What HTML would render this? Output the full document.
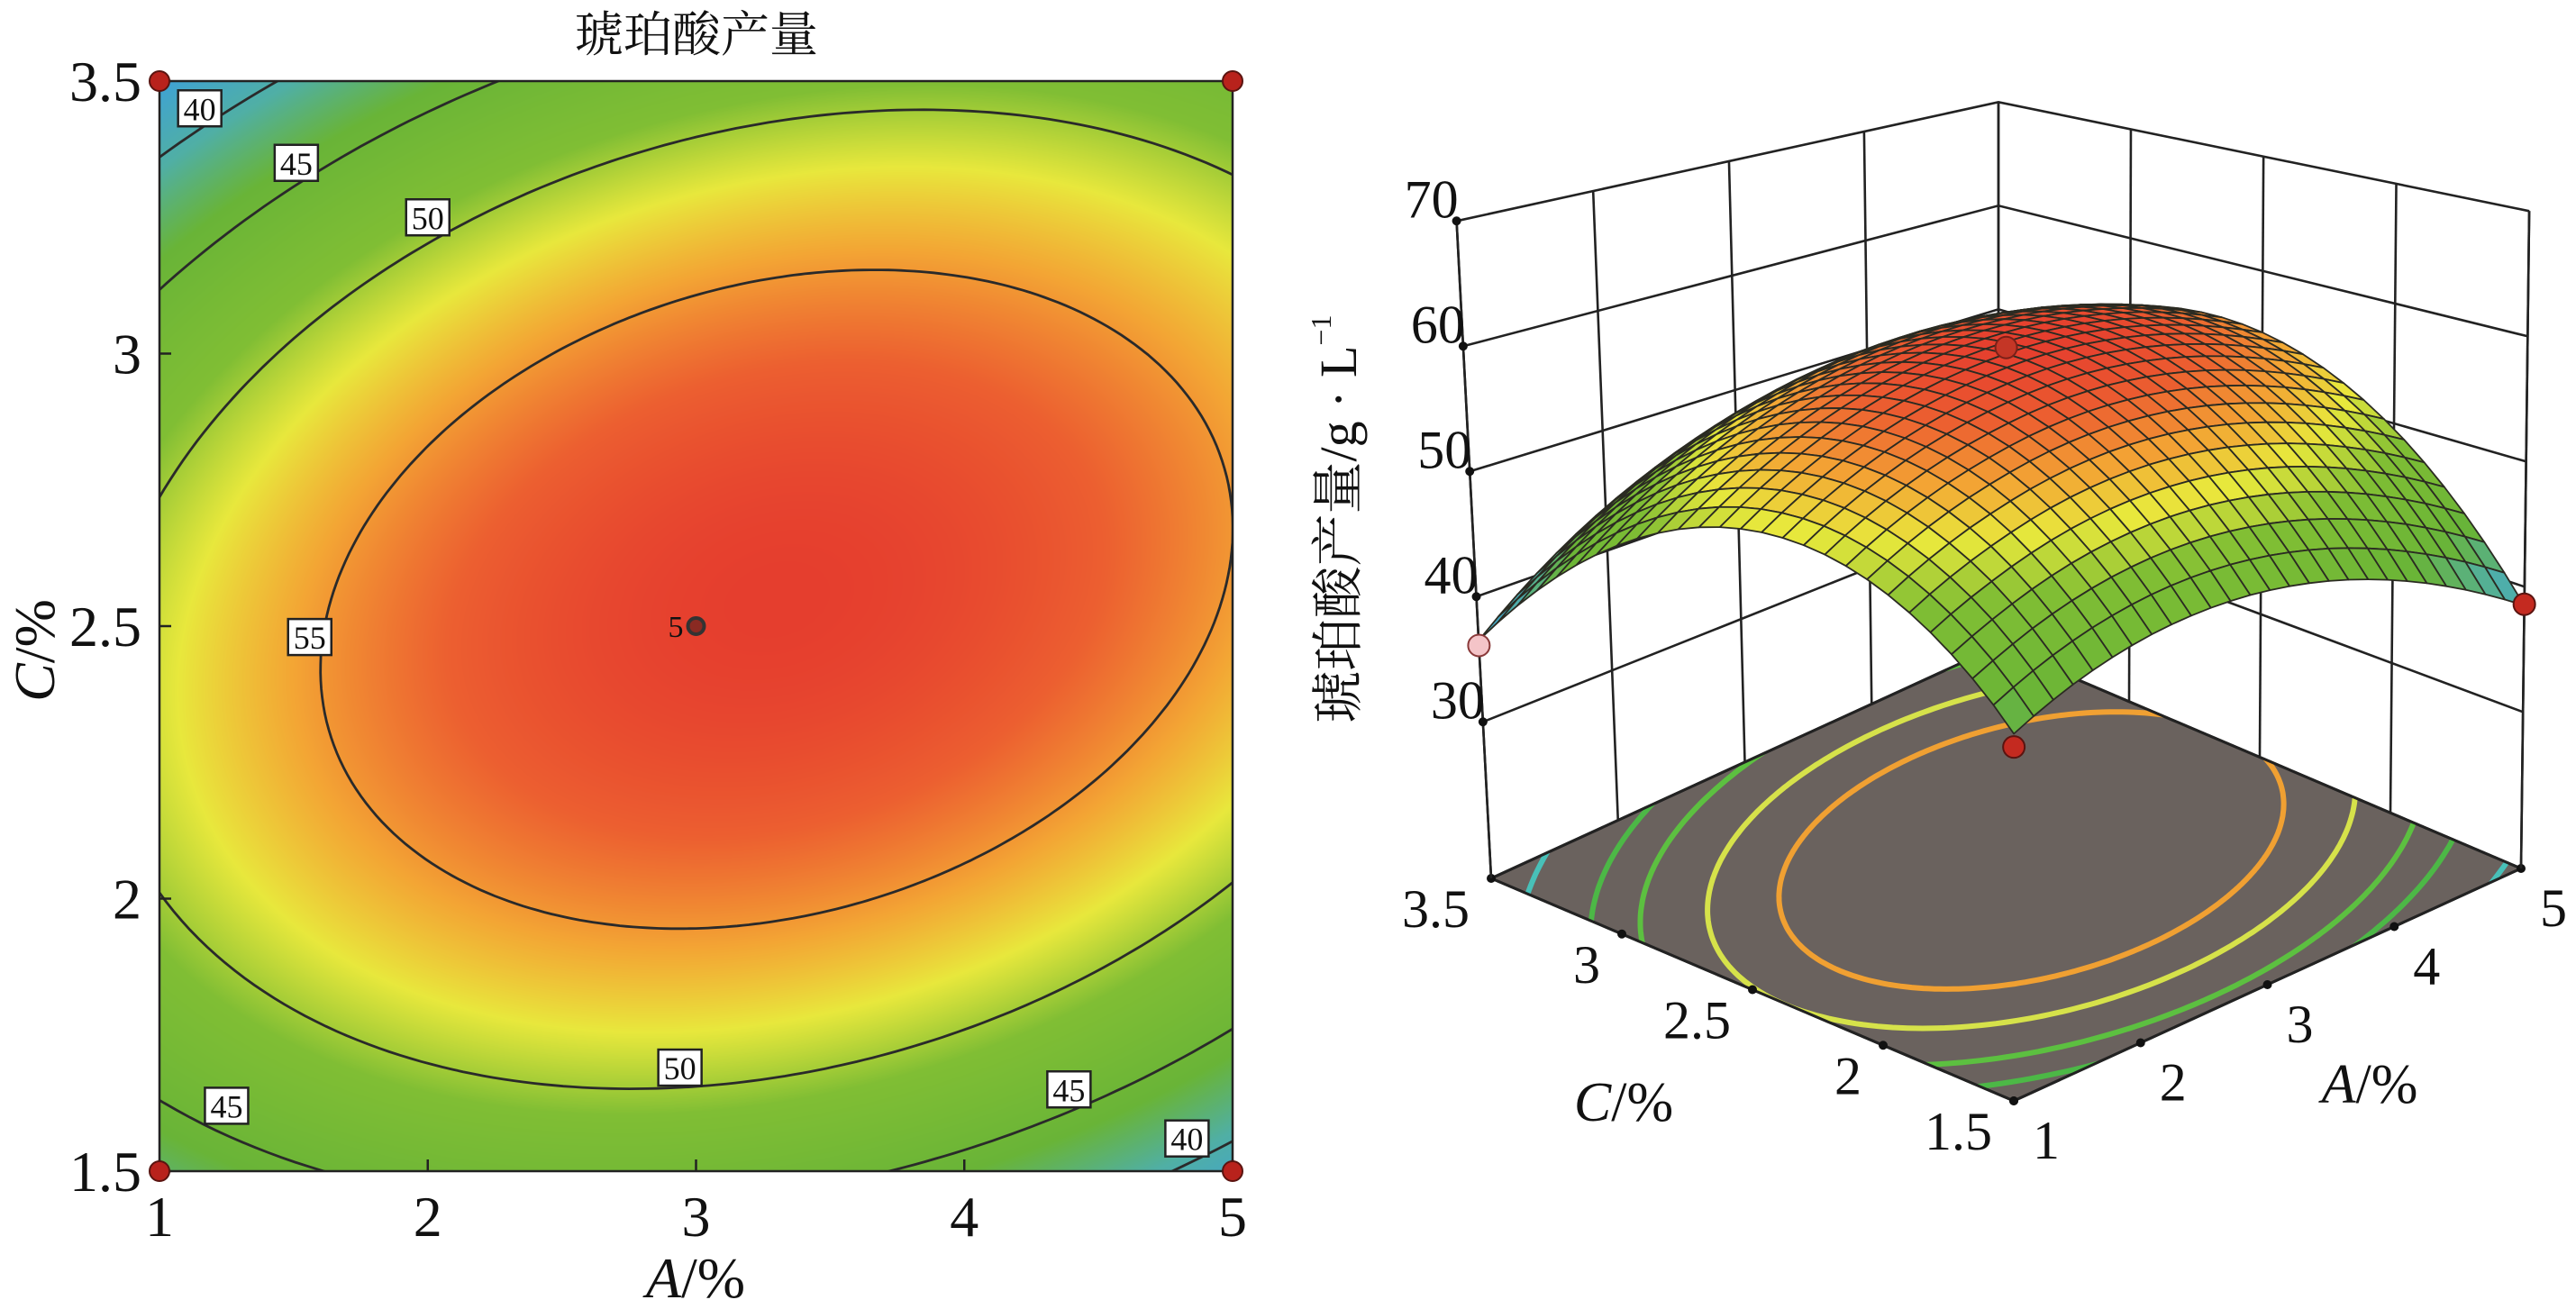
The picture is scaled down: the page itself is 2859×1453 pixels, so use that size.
<!DOCTYPE html>
<html><head><meta charset="utf-8">
<style>
html,body{margin:0;padding:0;background:#fff;}
#wrap{position:relative;width:2859px;height:1453px;overflow:hidden;background:#fff;}
canvas{position:absolute;left:0;top:0;}
svg{position:absolute;left:0;top:0;}
text{font-family:"Liberation Serif","Noto Serif CJK SC",serif;fill:#111;}
</style></head>
<body>
<div id="wrap">
<canvas id="heat" width="2859" height="1453"></canvas>
<svg id="svg" width="2859" height="1453" viewBox="0 0 2859 1453"></svg>
</div>
<script>
// ---- data ----
const coefNames = ["b0","bA","bC","bAC","bAA","bCC"];
const coefValues = [59, 1.625, 0.625, 3.625, -6, -11.875];
const contourLevels = [40, 45, 50, 55];
const floorLevels = [40, 45, 48, 51.5, 54.5];
const floorColors = ["#48c0b8", "#4cb846", "#5cc040", "#d6e24a", "#f0a032"];
const aTicks = [1, 2, 3, 4, 5];
const cTicks = [1.5, 2, 2.5, 3, 3.5];
const cTickLabels = ["1.5", "2", "2.5", "3", "3.5"];
const zTicks = [30, 40, 50, 60, 70];
const designA = [1, 5, 1, 5, 3];
const designC = [1.5, 1.5, 3.5, 3.5, 2.5];
const labelLevels = [40, 45, 50, 55, 50, 45, 40, 45];
const labelA = [1.15, 1.51, 2.0, 1.56, 2.94, 4.39, 4.83, 1.25];
const labelC = [3.45, 3.35, 3.25, 2.48, 1.69, 1.65, 1.56, 1.62];

const NS = "http://www.w3.org/2000/svg";
const svg = document.getElementById('svg');
function mk(tag, attrs, parent, txt){
  const e = document.createElementNS(NS, tag);
  for (const k in attrs) e.setAttribute(k, attrs[k]);
  if (txt !== undefined) e.textContent = txt;
  (parent || svg).appendChild(e);
  return e;
}
const [b0,b1,b2,b12,b11,b22] = coefValues;
function model(A, C){
  const a = (A-3)/2, c = (C-2.5);
  return b0 + b1*a + b2*c + b12*a*c + b11*a*a + b22*c*c;
}
const det = 4*b11*b22 - b12*b12;
const sa = (-b1*2*b22 + b2*b12)/det;
const sc = (-2*b11*b2 + b12*b1)/det;
const Ys = b0 + b1*sa + b2*sc + b12*sa*sc + b11*sa*sa + b22*sc*sc;
function contourPts(L, n){
  const pts = [];
  for (let i=0;i<=n;i++){
    const th = i/n*2*Math.PI, da = Math.cos(th), dc = Math.sin(th);
    const Q = b11*da*da + b12*da*dc + b22*dc*dc;
    const t = Math.sqrt((L - Ys)/Q);
    pts.push([3 + 2*(sa + t*da), 2.5 + (sc + t*dc)]);
  }
  return pts;
}
const cmV = [36, 40.5, 44, 49, 52, 54.5, 57, 59.5];
const cmC = [[60,160,220],[80,175,165],[105,180,55],[128,190,52],[232,232,60],[243,165,52],[236,95,48],[228,56,46]];
function cmap(v){
  if (v<=cmV[0]) return cmC[0];
  for (let i=1;i<cmV.length;i++){
    if (v<=cmV[i]){
      const t=(v-cmV[i-1])/(cmV[i]-cmV[i-1]);
      return cmC[i-1].map((x,k)=>Math.round(x+(cmC[i][k]-x)*t));
    }
  }
  return cmC[cmC.length-1];
}
const rgb = c => `rgb(${c[0]},${c[1]},${c[2]})`;

// ===== LEFT 2D CONTOUR =====
const L0=177, R0=1368, T0=90, B0=1300;
const xA = A => L0 + (A-1)/4*(R0-L0);
const yC = C => B0 - (C-1.5)/2*(B0-T0);
const ctx = document.getElementById('heat').getContext('2d');
const img = ctx.createImageData(R0-L0, B0-T0);
for (let py=0; py<B0-T0; py++){
  const C = 1.5 + (B0-T0-py)/(B0-T0)*2;
  for (let px=0; px<R0-L0; px++){
    const A = 1 + px/(R0-L0)*4;
    const col = cmap(model(A,C));
    const o = (py*(R0-L0)+px)*4;
    img.data[o]=col[0]; img.data[o+1]=col[1]; img.data[o+2]=col[2]; img.data[o+3]=255;
  }
}
ctx.putImageData(img, L0, T0);

const defs = mk('defs',{});
const cp = mk('clipPath',{id:'clip2d'},defs);
mk('rect',{x:L0,y:T0,width:R0-L0,height:B0-T0},cp);
const g2 = mk('g',{});
const gl = mk('g',{'clip-path':'url(#clip2d)'},g2);
contourLevels.forEach(L=>{
  const d = contourPts(L, 360).map((p,i)=>(i?'L':'M')+xA(p[0]).toFixed(1)+','+yC(p[1]).toFixed(1)).join('')+'Z';
  const e = mk('path',{d, fill:'none', stroke:'#2a2a2a','stroke-width':2.8},gl);
  
  
});
mk('rect',{x:L0,y:T0,width:R0-L0,height:B0-T0,fill:'none',stroke:'#222','stroke-width':2.5,},g2);
labelLevels.forEach((L,i)=>{
  const x=xA(labelA[i]), y=yC(labelC[i]);
  const g = mk('g',{},g2);
  
  
  mk('rect',{x:x-24,y:y-20,width:48,height:40,fill:'#fff',stroke:'#222','stroke-width':2.5},g);
  mk('text',{x:x,y:y+13,'font-size':36,'text-anchor':'middle'},g,String(L));
});
aTicks.forEach(A=>{
  mk('line',{x1:xA(A),y1:B0,x2:xA(A),y2:B0-13,stroke:'#222','stroke-width':2.5},g2);
  const t=mk('text',{x:xA(A),y:B0+72,'font-size':64,'text-anchor':'middle'},g2,String(A));
  
  
});
cTicks.forEach((C,i)=>{
  mk('line',{x1:L0,y1:yC(C),x2:L0+13,y2:yC(C),stroke:'#222','stroke-width':2.5},g2);
  const t=mk('text',{x:L0-20,y:yC(C)+22,'font-size':64,'text-anchor':'end'},g2,cTickLabels[i]);
  
  
});
designA.forEach((A,i)=>{
  const center = (A===3);
  const e = mk('circle',{cx:xA(A),cy:yC(designC[i]),r:center?9:11,fill:center?'#8a2a22':'#b8221c',stroke:center?'#333':'#5a1410','stroke-width':center?4:2},g2);
  
  
});
mk('text',{x:xA(3)-14,y:yC(2.5)+12,'font-size':34,'text-anchor':'end'},g2,'5');
mk('text',{x:773,y:57,'font-size':54,'text-anchor':'middle',},g2,'琥珀酸产量');
const xt = mk('text',{x:772,y:1440,'font-size':64,'text-anchor':'middle',},g2);
mk('tspan',{'font-style':'italic'},xt,'A');
mk('tspan',{},xt,'/%');
const yt = mk('text',{x:0,y:0,'font-size':64,'text-anchor':'middle',transform:'translate(60,722) rotate(-90)',},g2);
mk('tspan',{'font-style':'italic'},yt,'C');
mk('tspan',{},yt,'/%');

// ===== RIGHT 3D SURFACE =====
const O = [2235,1222];
const dA = [(2798-2235)/4, (964-1222)/4];
const dC = [(1655-2235)/2, (975-1222)/2];
const zFloor = 17.5;
function P(A,C,z){
  const xf = O[0]+(A-1)*dA[0]+(C-1.5)*dC[0];
  const yf = O[1]+(A-1)*dA[1]+(C-1.5)*dC[1];
  const d = ((A-1)/4 + (C-1.5)/2)/2;
  const s = 16.3 - 4.8*d;
  const h = (z-zFloor)*s;
  const f = xf < 2218 ? 0.0675 : 0.0155;
  return [xf + (xf-2218)*f*h/722, yf - h];
}
const g3 = mk('g',{});
const pl = pts => pts.map(p=>p[0].toFixed(1)+','+p[1].toFixed(1)).join(' ');
const gw = mk('g',{stroke:'#222','stroke-width':2.6,fill:'none',},g3);
[zFloor].concat(zTicks).forEach(z=>{
  mk('polyline',{points:pl([P(1,3.5,z),P(5,3.5,z),P(5,1.5,z)])},gw);
});
aTicks.forEach(A=>{ const p=P(A,3.5,zFloor), q=P(A,3.5,70); mk('line',{x1:p[0],y1:p[1],x2:q[0],y2:q[1]},gw); });
cTicks.forEach(C=>{ const p=P(5,C,zFloor), q=P(5,C,70); mk('line',{x1:p[0],y1:p[1],x2:q[0],y2:q[1]},gw); });
const floorPts = [P(1,1.5,zFloor),P(5,1.5,zFloor),P(5,3.5,zFloor),P(1,3.5,zFloor)];
mk('polygon',{points:pl(floorPts),fill:'#6a625e',stroke:'#222','stroke-width':3,},g3);
const cp3 = mk('clipPath',{id:'clipFloor'},defs);
mk('polygon',{points:pl(floorPts)},cp3);
const gf = mk('g',{'clip-path':'url(#clipFloor)'},g3);
floorLevels.forEach((L,k)=>{
  const d = contourPts(L,360).map((p,i)=>{const q=P(p[0],p[1],zFloor);return (i?'L':'M')+q[0].toFixed(1)+','+q[1].toFixed(1);}).join('')+'Z';
  const e = mk('path',{d,fill:'none',stroke:floorColors[k],'stroke-width':6},gf);
  
  
});
mk('polygon',{points:pl(floorPts),fill:'none',stroke:'#222','stroke-width':3},g3);
aTicks.forEach(A=>{ const q=P(A,1.5,zFloor); mk('circle',{cx:q[0],cy:q[1],r:5,fill:'#111'},g3);
  const t=mk('text',{x:q[0]+36,y:q[1]+64,'font-size':60,'text-anchor':'middle'},g3,String(A));
    });
cTicks.forEach((C,i)=>{ const q=P(1,C,zFloor); mk('circle',{cx:q[0],cy:q[1],r:5,fill:'#111'},g3);
  const t=mk('text',{x:q[0]-24,y:q[1]+54,'font-size':60,'text-anchor':'end'},g3,cTickLabels[i]);
    });
[[1,3.5],[5,1.5]].forEach(e=>{ const p=P(e[0],e[1],zFloor), q=P(e[0],e[1],70);
  mk('line',{x1:p[0],y1:p[1],x2:q[0],y2:q[1],stroke:'#222','stroke-width':2.6},g3); });
zTicks.forEach(z=>{ const q=P(1,3.5,z); mk('circle',{cx:q[0],cy:q[1],r:5,fill:'#111'},g3);
  const t=mk('text',{x:q[0]-28,y:q[1]-4,'font-size':60,'text-anchor':'middle'},g3,String(z));
    });
const N = 26;
const quads = [];
for (let i=0;i<N;i++) for (let j=0;j<N;j++) quads.push([i,j]);
quads.sort((p,q)=>(q[0]+q[1])-(p[0]+p[1]));
const gs = mk('g',{stroke:'#2b2b22','stroke-width':1.8,'stroke-linejoin':'round',},g3);
quads.forEach(([i,j])=>{
  const A0=1+4*i/N, A1=1+4*(i+1)/N, C0=1.5+2*j/N, C1=1.5+2*(j+1)/N;
  const zs=[model(A0,C0),model(A1,C0),model(A1,C1),model(A0,C1)];
  const zm=(zs[0]+zs[1]+zs[2]+zs[3])/4;
  const pts=[P(A0,C0,zs[0]),P(A1,C0,zs[1]),P(A1,C1,zs[2]),P(A0,C1,zs[3])];
  mk('polygon',{points:pl(pts),fill:rgb(cmap(zm))},gs);
});
const ptZ = [36.1, 38.6, 41.6, 59.5];
[[1,3.5,'#f4c4c8','#8a3a3a'],[5,1.5,'#c42a20','#5a1410'],[1,1.5,'#c42a20','#5a1410'],[3,2.5,'#c43626','#7a2018']].forEach((d,k)=>{
  const q = P(d[0],d[1],ptZ[k]);
  const e = mk('circle',{cx:q[0],cy:q[1],r:12,fill:d[2],stroke:d[3],'stroke-width':2},g3);
  
  
});
const at = mk('text',{x:2630,y:1224,'font-size':62,'text-anchor':'middle',},g3);
mk('tspan',{'font-style':'italic'},at,'A');
mk('tspan',{},at,'/%');
const ct = mk('text',{x:1802,y:1244,'font-size':62,'text-anchor':'middle',},g3);
mk('tspan',{'font-style':'italic'},ct,'C');
mk('tspan',{},ct,'/%');
const zt = mk('text',{x:0,y:0,'font-size':58,'text-anchor':'middle',transform:'translate(1505,576) rotate(-90)',},g3);
mk('tspan',{},zt,'琥珀酸产量/g · L');
mk('tspan',{'font-size':32,dy:-28},zt,'−1');
</script>
</body></html>
